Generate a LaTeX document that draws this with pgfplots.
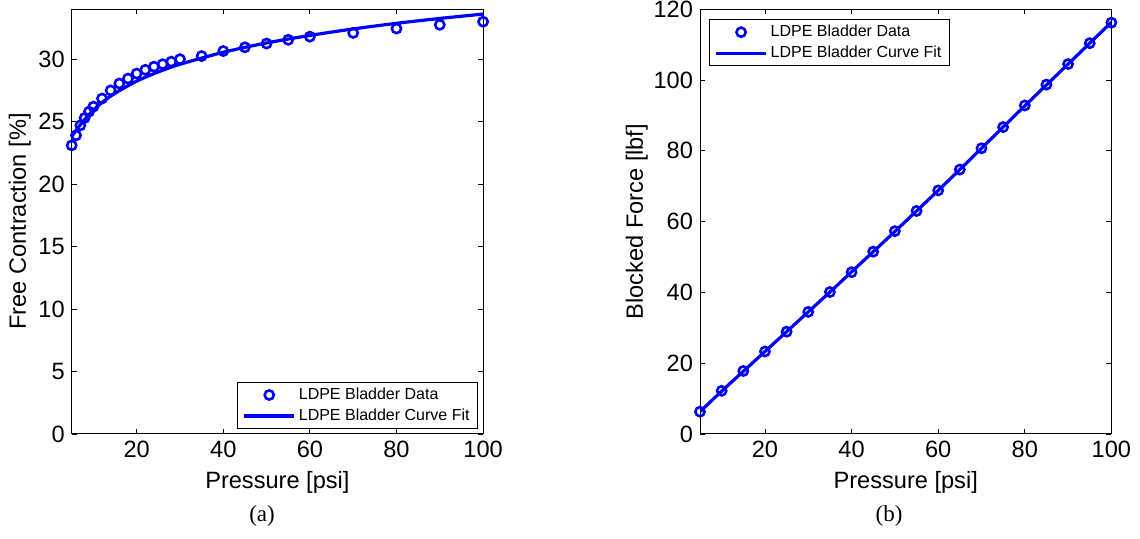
\documentclass[border=0pt]{standalone}
\usepackage{pgfplots}
\pgfplotsset{compat=1.18}
\usepackage{fontspec}
\setmainfont{Liberation Sans}
\newfontfamily\capfont{Liberation Serif}
\definecolor{mblue}{RGB}{0,0,255}

\pgfplotsset{
  panel/.style={
    scale only axis,
    width=205.7pt, height=212.4pt,
    xmin=5, xmax=100,
    xtick={20,40,60,80,100},
    tick align=inside,
    major tick length=2.5pt,
    tick style={black, line width=0.4pt},
    axis line style={black, line width=0.5pt},
    ticklabel style={font=\fontsize{11.8}{14}\selectfont},
    label style={font=\fontsize{11.8}{14}\selectfont},
    /pgf/number format/assume math mode=true,
    xlabel={Pressure [psi]},
    legend cell align=left,
    legend style={font=\fontsize{8}{10}\selectfont, draw=black, line width=0.5pt,
      inner xsep=2.5pt, inner ysep=1pt, row sep=0pt,
      nodes={inner sep=1.5pt, text height=6pt, text depth=1.5pt}},
  },
  datapts/.style={only marks, mark=o, mark size=2.3pt, color=mblue,
    mark options={line width=1.3pt},
    legend image code/.code={\draw[##1,mark repeat=2,mark phase=2] plot coordinates {(0pt,0pt) (12.5pt,0pt) (25pt,0pt)};}},
  fitline/.style={color=mblue, line width=1.6pt, no marks,
    legend image code/.code={\draw[##1] (0pt,0pt) -- (25pt,0pt);}},
}

\begin{document}
\begin{tikzpicture}
% (a) free contraction
\begin{axis}[panel,
  ymin=0, ymax=34, ytick={0,5,...,30},
  ylabel={Free Contraction [\%]},
  ylabel style={yshift=-3pt},
  legend style={at={(1,0)}, anchor=south east, xshift=-2.5pt, yshift=2.5pt},
  ]
\addplot[datapts] coordinates {
  (5,23.1) (6,23.9) (7,24.7) (8,25.3) (9,25.8) (10,26.2) (12,26.85)
  (14,27.5) (16,28.05) (18,28.45) (20,28.85) (22,29.15) (24,29.4)
  (26,29.6) (28,29.8) (30,30.0) (35,30.25) (40,30.65) (45,30.95)
  (50,31.25) (55,31.55) (60,31.8) (70,32.1) (80,32.45) (90,32.75) (100,33.0)
};
\addlegendentry{LDPE Bladder Data}
\addplot[fitline, smooth] coordinates {
  (5,23.8) (6,24.3) (7,24.75) (8,25.17) (10,25.92) (12,26.53) (15,27.27)
  (20,28.24) (25,28.98) (30,29.59) (40,30.55) (50,31.30) (60,31.90)
  (70,32.42) (80,32.87) (90,33.26) (100,33.61)
};
\addlegendentry{LDPE Bladder Curve Fit}
\end{axis}

% (b) blocked force
\begin{axis}[panel, at={(314.15pt,0pt)},
  ymin=0, ymax=120, ytick={0,20,...,120},
  ylabel={Blocked Force [lbf]},
  ylabel style={yshift=-4pt},
  legend style={at={(0,1)}, anchor=north west, xshift=4.5pt, yshift=-5pt},
  ]
\addplot[datapts] coordinates {
  (5,6.3) (10,12.2) (15,17.8) (20,23.3) (25,28.9) (30,34.5) (35,40.1)
  (40,45.7) (45,51.5) (50,57.3) (55,63.0) (60,68.8) (65,74.7) (70,80.7)
  (75,86.7) (80,92.8) (85,98.7) (90,104.5) (95,110.4) (100,116.2)
};
\addlegendentry{LDPE Bladder Data}
\addplot[fitline, smooth] coordinates {
  (5,6.3) (10,12.1) (15,17.7) (20,23.3) (25,28.9) (30,34.5) (35,40.1)
  (40,45.8) (45,51.5) (50,57.2) (55,63.0) (60,68.8) (65,74.7) (70,80.7)
  (75,86.7) (80,92.7) (85,98.6) (90,104.5) (95,110.4) (100,116.3)
};
\addlegendentry{LDPE Bladder Curve Fit}
\end{axis}

\node[font=\capfont\fontsize{11.5}{13}\selectfont] at (95.2pt,-41pt) {(a)};
\node[font=\capfont\fontsize{11.5}{13}\selectfont] at (408.7pt,-41pt) {(b)};

\pgfresetboundingbox
\path[use as bounding box] (-35.85pt,-52.5pt) rectangle (534.15pt,217pt);
\end{tikzpicture}
\end{document}
